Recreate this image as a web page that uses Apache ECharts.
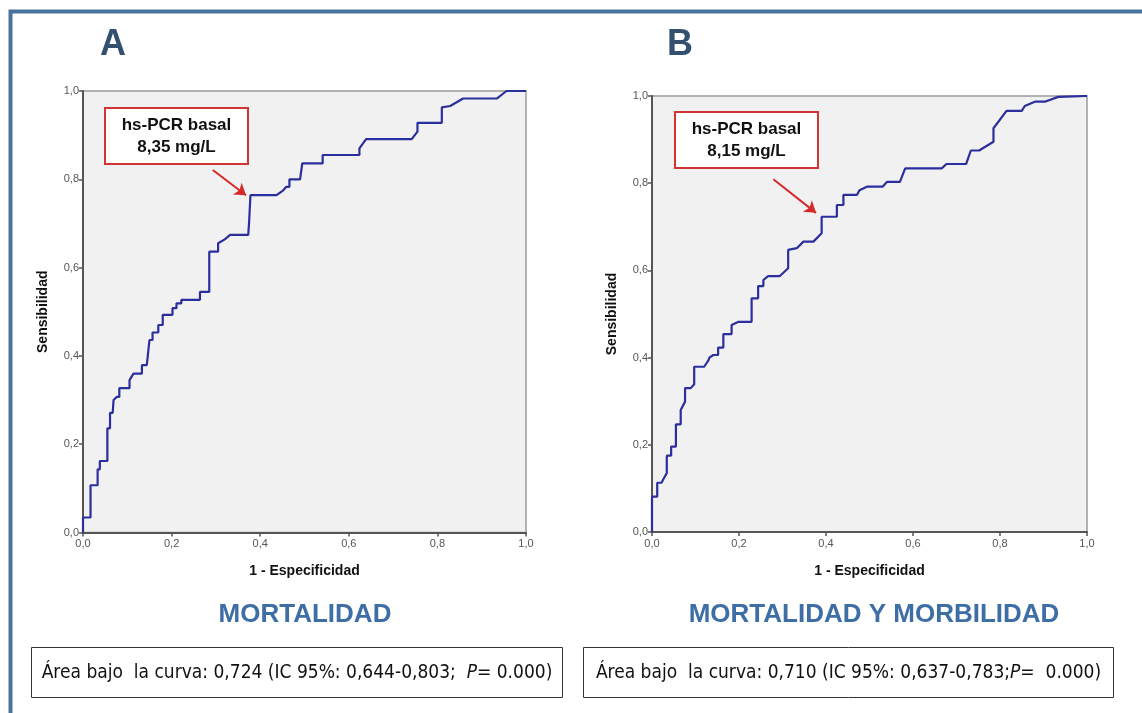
<!DOCTYPE html>
<html>
<head>
<meta charset="utf-8">
<script src="https://cdn.jsdelivr.net/npm/echarts@6/dist/echarts.min.js"></script>
<style>
  html, body { margin: 0; padding: 0; background: #fff; }
  #chart { width: 1142px; height: 713px; }
</style>
</head>
<body>
<div id="chart"></div>
<script>
// ROC curve A (mortalidad): 1 - especificidad / sensibilidad
const fprA = [0, 0, 0.017, 0.017, 0.033, 0.033, 0.038, 0.038, 0.055, 0.055, 0.061, 0.061, 0.067, 0.069, 0.076, 0.082, 0.082, 0.105, 0.105, 0.114, 0.133, 0.133, 0.144, 0.146, 0.150, 0.150, 0.157, 0.157, 0.170, 0.170, 0.180, 0.180, 0.202, 0.202, 0.211, 0.211, 0.222, 0.222, 0.264, 0.264, 0.285, 0.285, 0.305, 0.305, 0.320, 0.332, 0.373, 0.375, 0.378, 0.437, 0.452, 0.459, 0.466, 0.466, 0.490, 0.495, 0.541, 0.541, 0.624, 0.624, 0.639, 0.742, 0.755, 0.755, 0.810, 0.810, 0.829, 0.858, 0.934, 0.956, 1.0];
const tprA = [0, 0.034, 0.034, 0.107, 0.107, 0.143, 0.143, 0.162, 0.162, 0.236, 0.236, 0.271, 0.271, 0.300, 0.307, 0.307, 0.327, 0.327, 0.345, 0.360, 0.360, 0.379, 0.379, 0.398, 0.398, 0.436, 0.436, 0.453, 0.453, 0.470, 0.470, 0.493, 0.493, 0.508, 0.508, 0.519, 0.519, 0.527, 0.527, 0.545, 0.545, 0.636, 0.636, 0.655, 0.664, 0.674, 0.674, 0.704, 0.764, 0.764, 0.775, 0.783, 0.783, 0.800, 0.800, 0.836, 0.836, 0.855, 0.855, 0.870, 0.891, 0.891, 0.908, 0.928, 0.928, 0.963, 0.966, 0.983, 0.983, 1.0, 1.0];

// ROC curve B (mortalidad y morbilidad)
const fprB = [0, 0, 0.012, 0.012, 0.022, 0.026, 0.034, 0.034, 0.044, 0.044, 0.055, 0.055, 0.066, 0.066, 0.076, 0.076, 0.089, 0.097, 0.097, 0.120, 0.130, 0.132, 0.141, 0.152, 0.152, 0.164, 0.164, 0.183, 0.183, 0.199, 0.229, 0.229, 0.244, 0.244, 0.256, 0.256, 0.267, 0.294, 0.313, 0.313, 0.333, 0.348, 0.371, 0.390, 0.390, 0.425, 0.425, 0.440, 0.440, 0.471, 0.477, 0.494, 0.530, 0.540, 0.570, 0.582, 0.666, 0.677, 0.722, 0.733, 0.752, 0.785, 0.785, 0.815, 0.850, 0.857, 0.880, 0.903, 0.934, 1.0];
const tprB = [0, 0.081, 0.081, 0.113, 0.113, 0.121, 0.135, 0.175, 0.175, 0.196, 0.196, 0.247, 0.247, 0.280, 0.299, 0.330, 0.330, 0.339, 0.379, 0.379, 0.394, 0.400, 0.406, 0.406, 0.423, 0.423, 0.454, 0.454, 0.475, 0.482, 0.482, 0.536, 0.536, 0.564, 0.564, 0.578, 0.587, 0.587, 0.605, 0.647, 0.651, 0.666, 0.666, 0.685, 0.723, 0.723, 0.750, 0.750, 0.773, 0.773, 0.784, 0.792, 0.792, 0.803, 0.803, 0.834, 0.834, 0.844, 0.844, 0.875, 0.875, 0.895, 0.926, 0.966, 0.966, 0.977, 0.987, 0.987, 0.998, 1.0];

const axisTicks = [0, 0.2, 0.4, 0.6, 0.8, 1.0];
const cutoffLabels = ["hs-PCR basal\n8,35 mg/L", "hs-PCR basal\n8,15 mg/L"];
// arrow start / end in data units [x, y]
const arrowA = [[0.293, 0.821], [0.368, 0.764]];
const arrowB = [[0.279, 0.809], [0.377, 0.732]];
const panelLetters = ["A", "B"];
const panelTitles = ["MORTALIDAD", "MORTALIDAD Y MORBILIDAD"];
const aucText = [
  ["Área bajo  la curva: 0,724 (IC 95%: 0,644-0,803;  ", "P", "= 0.000)"],
  ["Área bajo  la curva: 0,710 (IC 95%: 0,637-0,783;", "P", "=  0.000)"]
];

const lineColor = "#2b2f9e";
const grids = [
  { left: 83, top: 91, width: 443, height: 441.5 },
  { left: 652, top: 96, width: 435, height: 436 }
];

const tickFmt = v => v.toFixed(1).replace(".", ",");

function xAxisFor(i) {
  return {
    gridIndex: i, type: "value", min: 0, max: 1, interval: 0.2,
    name: "1 - Especificidad", nameLocation: "middle", nameGap: 32,
    nameTextStyle: { fontFamily: "Liberation Sans", fontWeight: "bold", fontSize: 14, color: "#111" },
    axisLine: { show: true, lineStyle: { color: "#555", width: 2 } },
    axisTick: { show: true, length: 4, lineStyle: { color: "#555", width: 1.5 } },
    axisLabel: { formatter: tickFmt, fontSize: 11, color: "#555", margin: 6, fontFamily: "Liberation Sans" },
    splitLine: { show: false }
  };
}
function yAxisFor(i) {
  return {
    gridIndex: i, type: "value", min: 0, max: 1, interval: 0.2,
    name: "Sensibilidad", nameLocation: "middle", nameGap: 33,
    nameTextStyle: { fontFamily: "Liberation Sans", fontWeight: "bold", fontSize: 14, color: "#111" },
    axisLine: { show: true, lineStyle: { color: "#555", width: 2 } },
    axisTick: { show: true, length: 4, lineStyle: { color: "#555", width: 1.5 } },
    axisLabel: { formatter: tickFmt, fontSize: 11, color: "#555", margin: 4, fontFamily: "Liberation Sans" },
    splitLine: { show: false }
  };
}

function rocSeries(i, fpr, tpr, arrow) {
  return {
    type: "line", xAxisIndex: i, yAxisIndex: i,
    data: fpr.map((x, k) => [x, tpr[k]]),
    showSymbol: false, symbol: "none", animation: false,
    lineStyle: { color: lineColor, width: 2.2 },
    markLine: {
      silent: true, animation: false,
      symbol: ["none", "arrow"], symbolSize: 11,
      label: { show: false },
      lineStyle: { color: "#d62a2a", width: 2, type: "solid" },
      data: [[{ coord: arrow[0] }, { coord: arrow[1] }]]
    }
  };
}

function noteBox(i) {
  const boxes = [{ x: 104, y: 107, w: 143, h: 56 }, { x: 674, y: 111, w: 143, h: 56 }];
  const b = boxes[i];
  return {
    type: "group", left: b.x, top: b.y,
    children: [
      { type: "rect", shape: { x: 0, y: 0, width: b.w, height: b.h },
        style: { fill: "#fff", stroke: "#d23434", lineWidth: 2 } },
      { type: "text", x: b.w / 2, y: b.h / 2,
        style: { text: cutoffLabels[i], fill: "#111", font: "bold 17px 'Liberation Sans'",
          align: "center", verticalAlign: "middle", lineHeight: 22 } }
    ]
  };
}

function aucBox(i) {
  const boxes = [{ x: 31, y: 647, w: 531, h: 50 }, { x: 583, y: 647, w: 530, h: 50 }];
  const b = boxes[i];
  const t = aucText[i];
  return {
    type: "group", left: b.x, top: b.y,
    children: [
      { type: "rect", shape: { x: 0, y: 0, width: b.w, height: b.h },
        style: { fill: "#fff", stroke: "#333", lineWidth: 1 } },
      { type: "text", x: b.w / 2, y: b.h / 2 + 1,
        style: {
          text: "{n|" + t[0] + "}{i|" + t[1] + "}{n|" + t[2] + "}",
          align: "center", verticalAlign: "middle",
          rich: {
            n: { font: "19px 'Liberation Sans Narrow', 'Arial Narrow', 'DejaVu Sans Condensed'", fill: "#111" },
            i: { font: "italic 19px 'Liberation Sans Narrow', 'Arial Narrow', 'DejaVu Sans Condensed'", fill: "#111" }
          }
        } }
    ]
  };
}

const chart = echarts.init(document.getElementById("chart"), null, { renderer: "canvas" });
chart.setOption({
  animation: false,
  backgroundColor: "#fff",
  grid: grids.map(g => Object.assign({ show: true, backgroundColor: "#f1f1f1", borderColor: "#9a9a9a", borderWidth: 1.5, containLabel: false }, g)),
  xAxis: [xAxisFor(0), xAxisFor(1)],
  yAxis: [yAxisFor(0), yAxisFor(1)],
  series: [rocSeries(0, fprA, tprA, arrowA), rocSeries(1, fprB, tprB, arrowB)],
  graphic: [
    { type: "rect", left: 8, top: 9, shape: { width: 1160, height: 740 },
      style: { fill: "none", stroke: "#4a729e", lineWidth: 4 }, silent: true },
    { type: "text", left: 100, top: 27, style: { text: panelLetters[0], font: "bold 36px 'Liberation Sans'", fill: "#33506f" } },
    { type: "text", left: 667, top: 27, style: { text: panelLetters[1], font: "bold 36px 'Liberation Sans'", fill: "#33506f" } },
    { type: "text", x: 305, y: 615, style: { text: panelTitles[0], font: "bold 26px 'Liberation Sans'", fill: "#3e6ea6", align: "center", verticalAlign: "middle" } },
    { type: "text", x: 874, y: 615, style: { text: panelTitles[1], font: "bold 26px 'Liberation Sans'", fill: "#3e6ea6", align: "center", verticalAlign: "middle" } },
    noteBox(0), noteBox(1),
    aucBox(0), aucBox(1)
  ]
});
</script>
</body>
</html>
